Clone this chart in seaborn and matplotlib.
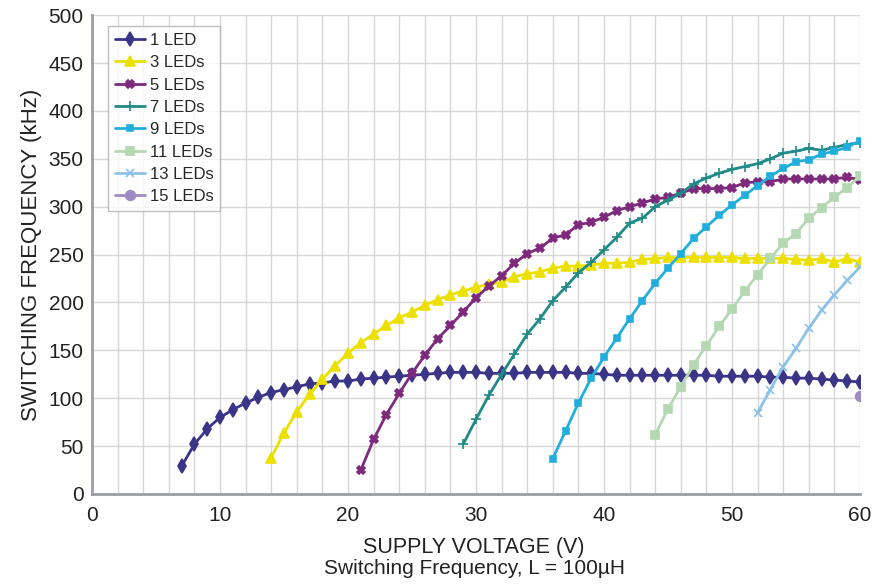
import numpy as np
import pandas as pd
import matplotlib
matplotlib.use("Agg")
import matplotlib.pyplot as plt
import seaborn as sns
from matplotlib.ticker import MultipleLocator

# supply voltage (V) / switching frequency (kHz)
v_1 = list(range(7, 61))
f_1 = [29, 52, 68, 80, 88, 95, 101, 106, 109, 112, 115, 116, 118, 118, 120, 121,
       122, 123, 124, 125, 126, 127, 127, 127, 126, 126, 126, 127, 127, 127, 127,
       126, 126, 125, 124, 124, 124, 124, 124, 124, 124, 124, 123, 123, 123, 123,
       122, 122, 121, 121, 120, 119, 118, 117]

v_3 = list(range(14, 61))
f_3 = [38, 64, 86, 104, 120, 134, 147, 158, 167, 176, 184, 190, 197, 203, 208,
       212, 216, 219, 221, 227, 230, 232, 236, 238, 238, 239, 241, 241, 242, 245,
       246, 247, 247, 247, 247, 247, 247, 246, 246, 246, 246, 245, 244, 246, 242,
       246, 242]

v_5 = list(range(21, 61))
f_5 = [25, 57, 83, 105, 126, 145, 162, 176, 190, 205, 217, 228, 241, 251, 257,
       267, 271, 281, 284, 289, 296, 300, 304, 308, 310, 314, 319, 319, 319, 320,
       325, 326, 326, 329, 329, 329, 329, 329, 331, 328]

v_7 = list(range(29, 61))
f_7 = [52, 78, 103, 125, 146, 167, 183, 202, 216, 231, 242, 255, 268, 283, 288,
       300, 307, 314, 324, 330, 335, 339, 342, 345, 350, 356, 358, 361, 359, 362,
       365, 367]

v_9 = list(range(36, 61))
f_9 = [37, 66, 95, 121, 143, 163, 183, 202, 220, 236, 251, 267, 279, 291, 302,
       312, 322, 332, 340, 347, 349, 355, 358, 362, 369]

v_11 = list(range(44, 61))
f_11 = [62, 89, 112, 135, 155, 175, 193, 212, 229, 246, 262, 272, 288, 299, 310,
        320, 332]

v_13 = list(range(52, 61))
f_13 = [85, 109, 133, 152, 173, 192, 208, 223, 237]

v_15 = [60]
f_15 = [102]

labels = ["1 LED", "3 LEDs", "5 LEDs", "7 LEDs", "9 LEDs", "11 LEDs", "13 LEDs", "15 LEDs"]
volts = [v_1, v_3, v_5, v_7, v_9, v_11, v_13, v_15]
freqs = [f_1, f_3, f_5, f_7, f_9, f_11, f_13, f_15]
colors = ["#3b3587", "#ece000", "#7e2a7c", "#208a88", "#22aedc", "#b4d8b2", "#8cc2e8", "#a08cc4"]
markers = ["d", "^", "X", "+", "s", "s", "x", "o"]
msizes = [7.5, 7, 6, 7, 5, 6, 6, 7]

sns.set_style("whitegrid")
plt.rcParams['font.family'] = ['Liberation Sans', 'DejaVu Sans']

fig = plt.figure(figsize=(8.73, 5.86), dpi=100)
ax = fig.add_axes([0.1054, 0.157, 0.8797, 0.817])

for lab, v, f, c, m, ms in zip(labels, volts, freqs, colors, markers, msizes):
    df = pd.DataFrame({"V": v, "F": f})
    sns.lineplot(data=df, x="V", y="F", ax=ax, color=c, marker=m, markersize=ms,
                 markeredgecolor=c, markeredgewidth=1.2, linewidth=2, label=lab)

ax.set_xlim(0, 60)
ax.set_ylim(0, 500)
ax.xaxis.set_major_locator(MultipleLocator(10))
ax.xaxis.set_minor_locator(MultipleLocator(2))
ax.yaxis.set_major_locator(MultipleLocator(50))
ax.grid(False)
ax.grid(True, which="minor", axis="x", color="#d6d6d6", linewidth=1)
ax.grid(True, which="major", axis="x", color="#d6d6d6", linewidth=1)
ax.grid(True, which="major", axis="y", color="#d6d6d6", linewidth=1)
ax.set_axisbelow(True)

for s in ["left", "bottom"]:
    ax.spines[s].set_color("#9a9ea4")
    ax.spines[s].set_linewidth(2)
for s in ["top", "right"]:
    ax.spines[s].set_visible(False)

ax.tick_params(axis="both", which="both", length=0, labelsize=15, colors="#222222")
ax.tick_params(axis="x", pad=9)
ax.tick_params(axis="y", pad=6)
ax.set_xlabel("")
ax.set_ylabel("SWITCHING FREQUENCY (kHz)", fontsize=16, color="#222222", labelpad=5)

fig.text(0.543, (586 - 553) / 586, "SUPPLY VOLTAGE (V)", fontsize=15.5,
         color="#222222", ha="center", va="baseline")
fig.text(0.543, (586 - 574) / 586, "Switching Frequency, L = 100µH", fontsize=15,
         color="#222222", ha="center", va="baseline")

leg = ax.legend(loc="upper left", bbox_to_anchor=(0.021, 0.977), fontsize=12,
                frameon=True, fancybox=False, edgecolor="#b0b0b0",
                handlelength=1.8, handletextpad=0.3, labelspacing=0.44,
                borderpad=0.4, borderaxespad=0)
leg.get_frame().set_linewidth(1)

fig.savefig("out.png", dpi=100)
